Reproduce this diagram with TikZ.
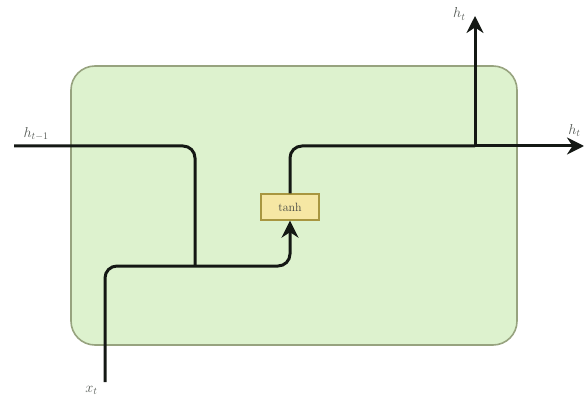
\documentclass[tikz,border=0pt]{standalone}
\usepackage{tikz}
\usetikzlibrary{arrows.meta,positioning,calc}
\definecolor{cellgreen}{HTML}{DDF2CE}
\definecolor{celledge}{HTML}{97A37F}
\definecolor{gatefill}{HTML}{F6E7A4}
\definecolor{gateedge}{HTML}{A89640}
\definecolor{wire}{HTML}{141814}
\definecolor{lblgray}{HTML}{555A55}
\tikzset{
  cell/.style={draw=celledge, line width=1.6pt, fill=cellgreen, rounded corners=24pt},
  gate/.style={draw=gateedge, line width=1.4pt, fill=gatefill, minimum width=58pt, minimum height=26pt, inner sep=1pt, font=\large, text=wire!80},
  flow/.style={wire, line width=3pt, rounded corners=12pt},
  arr/.style={flow, -{Stealth[length=17pt, width=17pt]}},
  lbl/.style={font=\Large, text=lblgray},
}

\begin{document}
\begin{tikzpicture}[x=1pt, y=-1pt]
  \useasboundingbox (0,0) rectangle (585,395);
  % cell body
  \draw[cell] (71,66) rectangle (517,345);
  \node[gate] (tanh) at (290,207) {tanh};
  % inputs and state points
  \coordinate (hin) at (14,146);
  \coordinate (xin) at (105,382);
  \coordinate (join) at (195,266);
  \coordinate (split) at (475,146);
  \coordinate (hout) at (584,146);
  \coordinate (yout) at (475,16);
  % wires
  \draw[flow] (hin) -- (195,146) -- (join);
  \draw[arr] (xin) -- (105,266) -| (tanh.south);
  \draw[flow] (tanh.north) |- (split);
  \draw[arr] (split) -- (hout);
  \draw[arr] (split) -- (yout);
  % labels
  \node[lbl, above right=2pt and 6pt of hin] {$h_{t-1}$};
  \node[lbl, left=4pt of xin, yshift=-8pt] {$x_t$};
  \node[lbl, left=6pt of yout, yshift=2pt] {$h_t$};
  \node[lbl, above left=6pt and 0pt of hout] {$h_t$};
\end{tikzpicture}
\end{document}
